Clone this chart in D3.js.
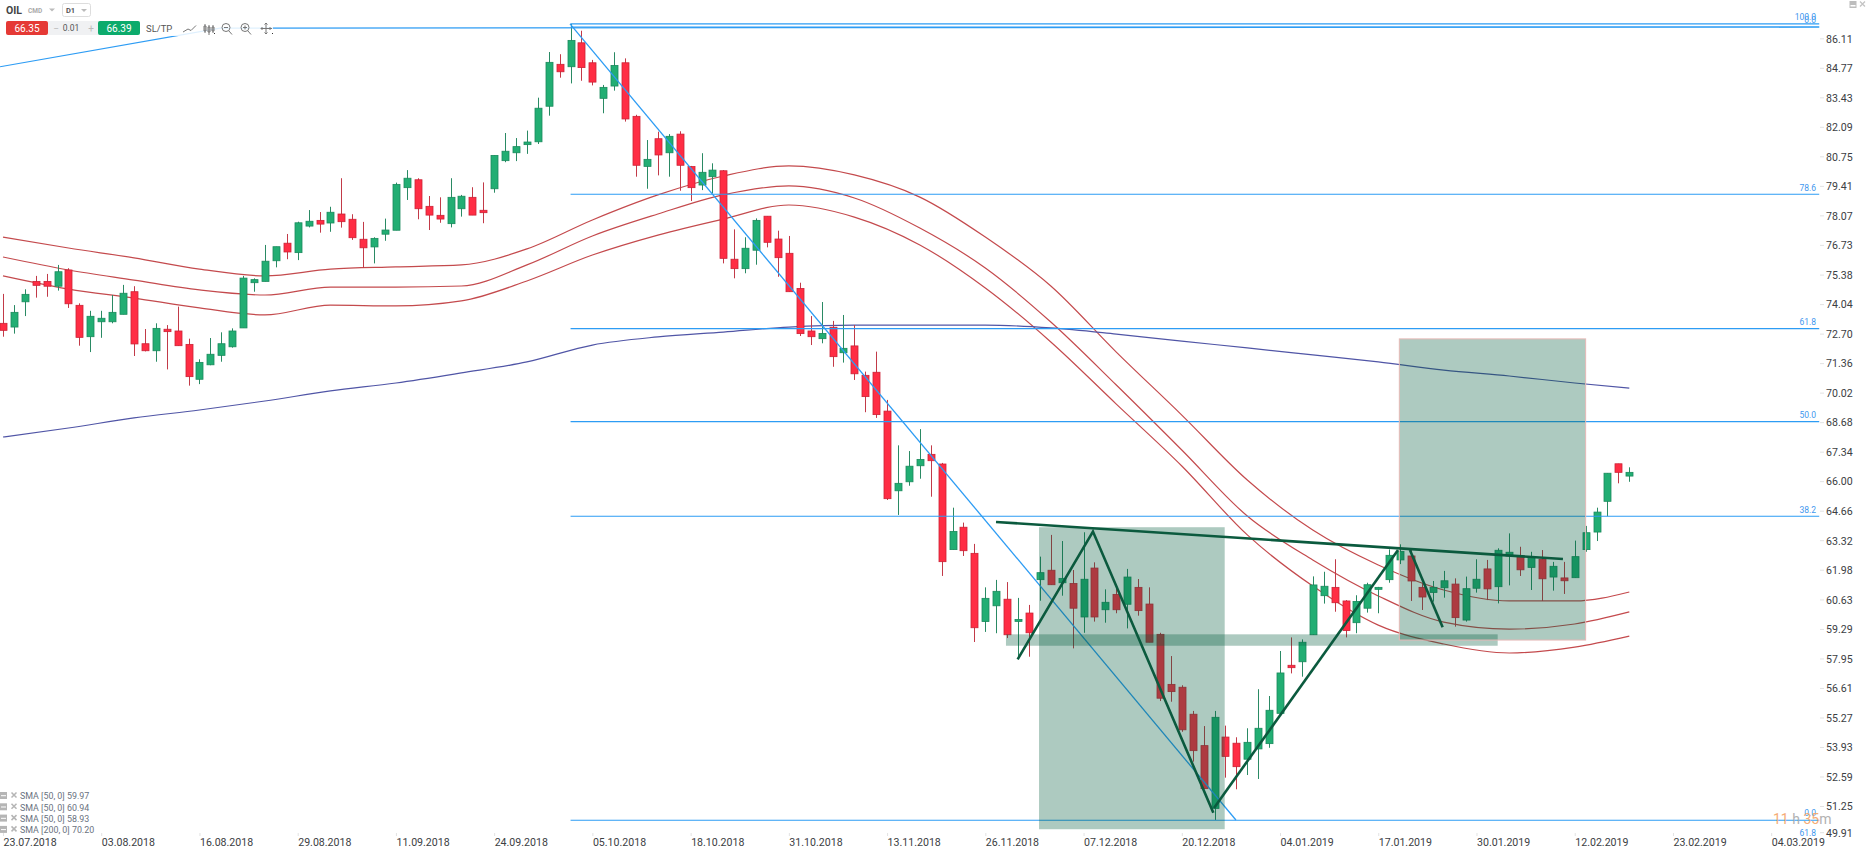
<!DOCTYPE html>
<html><head><meta charset="utf-8">
<script src="https://cdn.jsdelivr.net/npm/d3@7"></script>
<style>html,body{margin:0;padding:0;background:#fff;overflow:hidden}svg{display:block}text{font-family:Roboto,sans-serif}</style>
</head><body><svg id="c" width="1867" height="851"></svg>
<script>
// ---- candles, one entry per daily bar ----
const opens=[73.13,72.96,74.11,75.04,75.04,74.82,75.56,73.95,72.52,73.20,
73.20,73.54,74.57,72.20,71.88,72.86,72.78,72.17,70.58,71.24,
71.67,72.06,72.92,74.98,75.04,75.98,76.78,76.35,77.56,77.82,
77.70,78.11,77.87,76.96,76.61,77.19,77.37,79.31,79.67,78.46,
78.05,77.67,78.35,78.87,78.28,79.26,80.54,80.90,81.27,81.40,
83.02,84.93,84.82,85.91,85.00,83.38,83.94,85.00,82.56,80.28,
81.54,80.90,81.75,80.27,79.43,79.81,80.08,76.05,75.62,76.46,
78.01,76.97,76.32,74.72,72.78,72.43,72.95,71.79,72.10,70.76,
70.90,69.13,65.50,65.91,66.64,67.16,66.72,62.82,63.84,62.65,
59.54,60.26,60.56,59.55,59.93,61.45,61.88,61.31,61.28,59.75,
61.98,60.08,60.78,60.33,61.10,60.34,58.96,56.68,56.55,55.32,
53.89,51.03,54.28,54.00,53.27,53.74,53.98,55.36,57.55,57.71,
58.94,60.72,61.10,60.48,59.49,60.15,61.01,61.45,62.35,62.53,
61.10,60.87,61.08,61.25,59.61,61.06,61.94,61.13,62.53,62.53,
62.01,62.38,61.57,61.53,61.54,62.82,63.62,65.02,66.73,66.17];
const highs=[74.47,73.96,74.68,75.29,75.38,75.79,75.64,74.04,73.70,73.70,
74.42,74.88,74.82,72.87,73.13,73.05,73.89,72.43,71.49,72.46,
72.72,72.90,75.29,75.18,76.70,76.62,77.20,77.76,78.29,78.20,
78.44,79.74,78.10,77.75,77.05,77.90,79.54,80.11,79.74,78.93,
78.87,79.74,78.98,79.33,79.55,80.78,81.80,81.57,81.91,83.41,
85.49,85.39,86.77,86.46,85.13,83.99,85.48,85.20,82.63,81.48,
81.86,81.75,81.88,80.30,80.88,80.42,80.11,77.41,77.05,77.91,
78.01,77.35,77.11,74.98,73.46,74.10,73.24,73.51,73.05,70.93,
71.84,69.64,67.57,67.31,68.31,67.57,66.77,64.73,64.05,63.08,
61.10,61.44,61.34,60.62,60.30,62.50,63.49,63.21,61.89,63.61,
62.24,61.01,61.12,61.94,61.48,61.10,59.03,57.97,56.64,55.47,
54.78,55.47,54.80,54.27,54.68,56.46,56.15,58.20,58.82,58.73,
61.60,61.81,62.38,60.52,60.74,61.31,61.12,62.83,63.06,62.80,
61.30,61.39,61.85,61.51,61.59,62.38,62.35,62.88,63.56,62.95,
62.72,62.80,62.26,62.26,63.23,63.90,64.73,66.30,66.73,66.57];
const lows=[72.52,72.66,73.46,74.30,74.34,74.62,73.83,72.11,71.82,72.47,
73.13,73.54,71.64,71.85,71.38,71.03,72.11,70.29,70.36,71.22,
71.38,72.02,72.92,74.57,75.04,75.68,76.05,76.01,77.50,77.26,
77.30,77.49,76.93,75.65,75.86,76.89,77.37,78.75,77.87,77.38,
77.71,77.50,77.99,78.06,77.69,79.08,80.47,80.52,80.85,81.30,
82.59,84.32,84.06,84.18,83.97,82.70,83.73,82.32,79.81,79.26,
79.87,79.81,79.17,78.70,79.20,79.05,75.86,75.18,75.41,75.80,
76.59,75.25,74.57,72.55,72.14,72.22,71.15,71.34,70.55,69.08,
68.82,65.08,64.40,65.73,66.05,65.23,61.62,62.82,62.53,58.61,
59.07,59.01,58.79,57.87,57.94,60.49,61.22,60.72,58.32,59.03,
59.54,59.49,59.92,59.23,59.81,58.60,55.92,55.89,54.52,53.16,
51.93,50.50,52.43,51.90,52.55,52.37,53.79,55.36,57.18,57.03,
58.94,60.36,59.99,58.82,59.01,59.95,59.92,61.31,62.16,60.48,
60.07,60.45,60.63,59.31,59.54,60.86,60.52,60.37,61.19,61.62,
60.98,60.48,60.95,60.80,61.54,62.72,63.21,64.34,65.84,65.91];
const closes=[72.81,73.63,74.45,74.86,74.82,75.48,74.02,72.49,73.45,73.36,
73.63,74.50,72.19,71.88,72.90,72.75,72.11,70.70,71.35,71.72,
72.20,72.78,75.19,75.12,75.96,76.62,76.38,77.71,77.78,77.65,
78.19,77.76,77.03,76.57,77.00,77.38,79.46,79.74,78.35,78.06,
77.88,78.87,78.92,78.06,78.17,80.78,80.97,81.18,81.39,82.93,
85.02,84.59,86.02,84.78,84.12,83.88,84.88,82.44,80.33,80.60,
80.80,81.65,80.33,79.31,80.01,80.11,76.09,75.62,76.55,77.82,
76.82,76.12,74.57,72.66,72.52,72.67,71.61,71.99,70.83,69.79,
68.97,65.14,65.84,66.62,66.93,66.87,62.27,63.65,62.77,59.26,
60.60,60.92,58.94,59.64,59.03,61.77,61.22,61.51,60.15,61.47,
59.75,60.42,60.08,61.57,60.04,58.60,56.05,56.35,54.61,53.66,
51.93,55.18,53.40,52.93,54.04,54.68,55.50,57.20,57.44,58.60,
61.21,61.15,60.40,59.13,60.46,61.22,61.10,62.56,62.74,61.39,
60.66,61.10,61.40,59.72,61.04,61.47,61.03,62.79,62.70,61.90,
62.50,61.49,62.06,61.40,62.50,63.59,64.53,66.30,66.34,66.34];
// ---- moving averages, read at every sixth bar ----
const maBars=[0,6,12,18,24,30,36,42,48,54,60,66,72,78,84,90,96,102,108,114,120,126,132,138,144,149];
const smaUpper=[77.06,76.56,76.11,75.60,75.29,75.60,75.70,75.79,76.52,77.84,78.98,79.84,80.30,79.89,78.88,77.06,74.83,71.82,68.95,65.99,63.71,62.12,60.98,60.48,60.48,60.89];
const smaMiddle=[76.15,75.56,75.10,74.65,74.42,74.78,74.78,74.83,75.79,77.11,78.11,78.98,79.39,78.84,77.47,75.65,73.19,70.32,67.36,64.35,62.35,60.71,59.52,59.20,59.43,59.98];
const smaLower=[75.29,74.69,74.28,73.83,73.51,73.96,73.92,74.15,75.06,76.24,77.15,77.88,78.52,77.97,76.70,74.74,72.28,69.45,66.63,63.49,61.16,59.38,58.52,58.11,58.38,58.88];
const sma200=[67.95,68.36,68.82,69.18,69.59,70.05,70.41,70.87,71.37,72.14,72.51,72.73,72.96,73.05,73.05,73.05,72.92,72.64,72.32,72.01,71.69,71.37,71.00,70.73,70.41,70.18];
// ---- axes ----
const priceTicks=[86.11,84.77,83.43,82.09,80.75,79.41,78.07,76.73,75.38,74.04,72.70,71.36,70.02,68.68,67.34,66.00,64.66,63.32,61.98,60.63,59.29,57.95,56.61,55.27,53.93,52.59,51.25,49.91];
const dateTicks=["23.07.2018","03.08.2018","16.08.2018","29.08.2018","11.09.2018","24.09.2018","05.10.2018","18.10.2018","31.10.2018","13.11.2018","26.11.2018","07.12.2018","20.12.2018","04.01.2019","17.01.2019","30.01.2019","12.02.2019","23.02.2019","04.03.2019"];
// ---- drawings on the chart, in bar index and price ----
const fibLevels=[86.77,86.63,79.01,72.89,68.65,64.34,50.49];
const fibLabels=["100.0","0.0","78.6","61.8","50.0","38.2","0.0","61.8"];
const fibLabelPrices=[87.10,86.95,79.28,73.17,68.97,64.62,50.80,49.93];
const zones=[[94.92,111.93,63.84,50.08],[127.93,145.0,72.42,58.70],[91.89,136.94,58.96,58.44]];
const patternA=[[92.96,57.82],[99.86,63.64],[110.89,50.83]];
const patternB=[[110.95,51.05],[127.81,62.80]];
const patternC=[[128.9,62.80],[131.9,59.28]];
const neckline=[[90.98,64.08],[142.92,62.39]];
const fibTrend=[[51.95,86.77],[112.96,50.50]];
const olderTrend=[[-0.27,84.82],[19.88,86.58],[166.4,86.63]];
const legendLabels=["SMA [50, 0] 59.97","SMA [50, 0] 60.94","SMA [50, 0] 58.93","SMA [200, 0] 70.20"];

const svg=d3.select("#c");
const x=d3.scaleLinear().domain([0,149]).range([3,1629.3]);
const y=d3.scaleLinear().domain([87.86,49.91]).range([0,832.97]);
const axisY=d3.scaleLinear().domain([86.11,51.25]).range([38.3,806]);
const lineGen=d3.line().x(d=>x(d[0])).y(d=>y(d[1]));
const smoothGen=d3.line().x(d=>x(d[0])).y(d=>y(d[1])).curve(d3.curveMonotoneX);
const FIBC="#2d9cf4";

// axes
const yAxis=d3.axisRight(axisY).tickValues(priceTicks).tickSize(4).tickPadding(2).tickFormat(d3.format(".2f"));
const gy=svg.append("g").attr("transform","translate(1820,0)").call(yAxis);
gy.select(".domain").remove();
gy.selectAll(".tick").filter(d=>d===49.91).attr("transform","translate(0,832.7)");
gy.selectAll("line").attr("stroke","#e2e2e2");
gy.selectAll("text").attr("fill","#3c4043").style("font-size","10.6px").attr("dy","0.36em");
const barTicks=dateTicks.map((d,i)=>i*9);
const xAxis=d3.axisBottom(x).tickValues(barTicks).tickSize(3).tickPadding(1).tickFormat((d,i)=>dateTicks[i]);
const gx=svg.append("g").attr("transform","translate(0,833)").call(xAxis);
gx.select(".domain").remove();
gx.selectAll("line").attr("stroke","#e2e2e2");
gx.selectAll("text").attr("fill","#3c4043").attr("text-anchor","start").style("font-size","10.6px").attr("y",5);

// moving averages
[smaUpper,smaMiddle,smaLower].forEach(s=>{
  svg.append("path").datum(s.map((v,i)=>[maBars[i],v])).attr("d",smoothGen).attr("fill","none").attr("stroke","#c44a4d").attr("stroke-width",1.2);
});
svg.append("path").datum(sma200.map((v,i)=>[maBars[i],v])).attr("d",smoothGen).attr("fill","none").attr("stroke","#5055a6").attr("stroke-width",1.2);

// candles
const bars=opens.map((o,i)=>({i,o,h:highs[i],l:lows[i],c:closes[i],up:closes[i]>=o}));
const gc=svg.append("g");
gc.selectAll("line").data(bars).join("line")
  .attr("x1",d=>Math.round(x(d.i))+.5).attr("x2",d=>Math.round(x(d.i))+.5)
  .attr("y1",d=>y(d.h)).attr("y2",d=>y(d.l))
  .attr("stroke",d=>d.up?"#2a8a64":"#c23a48").attr("stroke-width",1);
gc.selectAll("rect").data(bars).join("rect")
  .attr("x",d=>Math.round(x(d.i))-3).attr("width",7)
  .attr("y",d=>y(Math.max(d.o,d.c))).attr("height",d=>Math.max(1.5,y(Math.min(d.o,d.c))-y(Math.max(d.o,d.c))))
  .attr("fill",d=>d.up?"#22ae73":"#ff2d44").attr("stroke",d=>d.up?"#1a8a5c":"#cc2236").attr("stroke-width",.8);

// fib lines
svg.selectAll(".fib").data(fibLevels).join("line").attr("class","fib")
  .attr("x1",x(52)).attr("x2",x(166.4)).attr("y1",d=>y(d)).attr("y2",d=>y(d))
  .attr("stroke",FIBC).attr("stroke-width",1.2);
svg.append("path").datum(olderTrend).attr("d",lineGen).attr("fill","none").attr("stroke",FIBC).attr("stroke-width",1.2);
svg.append("path").datum(fibTrend).attr("d",lineGen).attr("fill","none").attr("stroke",FIBC).attr("stroke-width",1.3);
svg.selectAll(".fl").data(fibLabels).join("text").attr("class","fl")
  .attr("x",1816).attr("y",(d,i)=>y(fibLabelPrices[i])).attr("text-anchor","end").attr("dy","0.36em")
  .attr("fill","#3f97ee").style("font-size","8.5px").text(d=>d);

// zones
svg.selectAll(".zone").data(zones).join("rect").attr("class","zone")
  .attr("x",d=>x(d[0])).attr("width",d=>x(d[1])-x(d[0]))
  .attr("y",d=>y(d[2])).attr("height",d=>y(d[3])-y(d[2]))
  .attr("fill","rgb(0,90,60)").attr("fill-opacity",.32);
svg.append("rect").attr("x",x(zones[1][0])).attr("width",x(zones[1][1])-x(zones[1][0]))
  .attr("y",y(zones[1][2])).attr("height",y(zones[1][3])-y(zones[1][2]))
  .attr("fill","none").attr("stroke","#e6b9b6").attr("stroke-width",1);

// chart pattern
[patternA,patternB,patternC,neckline].forEach(p=>{
  svg.append("path").datum(p).attr("d",lineGen).attr("fill","none").attr("stroke","#0b5a3e").attr("stroke-width",2.6);
});

// countdown
const cd=svg.append("text").attr("x",1773).attr("y",824).style("font-size","14px").attr("opacity",.9);
[["11","#f5a468"],[" h ","#aaa"],["35","#f5a468"],["m","#aaa"]].forEach(([t,c])=>cd.append("tspan").attr("fill",c).attr("xml:space","preserve").text(t));

// legend
const lg=svg.append("g");
legendLabels.forEach((t,i)=>{
  const yy=796+i*11.3;
  lg.append("rect").attr("x",0).attr("y",yy-4).attr("width",7).attr("height",7).attr("fill","#b5b5b5");
  lg.append("rect").attr("x",1).attr("y",yy-.8).attr("width",5).attr("height",1).attr("fill","#fff");
  lg.append("path").attr("d",`M11.5 ${yy-3.5}l5 5M16.5 ${yy-3.5}l-5 5`).attr("stroke","#b5b5b5").attr("stroke-width",1.5);
  lg.append("text").attr("x",20).attr("y",yy).attr("dy","0.36em").attr("fill","#6a7280").style("font-size","8.9px").text(t);
});

// toolbar
const tb=svg.append("g");
tb.append("rect").attr("x",165).attr("y",20).attr("width",108).attr("height",16).attr("fill","#fff").attr("opacity",.85);
tb.append("text").attr("x",6).attr("y",14).attr("fill","#444").style("font-size","10.5px").style("font-weight",700).text("OIL");
tb.append("text").attr("x",28).attr("y",13).attr("fill","#aaa").style("font-size","6.5px").style("font-weight",700).text("CMD");
tb.append("path").attr("d","M49 8.5h6l-3 3z").attr("fill","#bbb");
tb.append("rect").attr("x",62.5).attr("y",3.5).attr("width",28).attr("height",13).attr("rx",2).attr("fill","#fff").attr("stroke","#ddd");
tb.append("text").attr("x",66).attr("y",13).attr("fill","#555").style("font-size","7.5px").style("font-weight",700).text("D1");
tb.append("path").attr("d","M81 9h6l-3 3z").attr("fill","#bbb");
tb.append("rect").attr("x",48).attr("y",21).attr("width",52).attr("height",14).attr("fill","#f0f1f3");
tb.append("rect").attr("x",6).attr("y",21).attr("width",42).attr("height",14).attr("rx",2).attr("fill","#e53935");
tb.append("rect").attr("x",98).attr("y",21).attr("width",42).attr("height",14).attr("rx",2).attr("fill","#0cab6c");
tb.append("text").attr("x",27).attr("y",31.6).attr("text-anchor","middle").attr("fill","#fff").style("font-size","10px").text("66.35");
tb.append("text").attr("x",119).attr("y",31.6).attr("text-anchor","middle").attr("fill","#fff").style("font-size","10px").text("66.39");
tb.append("text").attr("x",71).attr("y",31.4).attr("text-anchor","middle").attr("fill","#555").style("font-size","8.5px").text("0.01");
tb.append("text").attr("x",56).attr("y",31.6).attr("text-anchor","middle").attr("fill","#bbb").style("font-size","10px").text("−");
tb.append("text").attr("x",91).attr("y",31.6).attr("text-anchor","middle").attr("fill","#bbb").style("font-size","10px").text("+");
tb.append("text").attr("x",146).attr("y",32).attr("fill","#555").style("font-size","9.5px").text("SL/TP");
const ic=tb.append("g").attr("fill","none").attr("stroke","#777").attr("stroke-width",1);
ic.append("path").attr("d","M183 32l5-3 3 1.5 5-5");
ic.append("path").attr("d","M205 24v9M209 25v10M213 25v8M204 26h2v5h-2zM208 27h2v5h-2zM212 27h2v4h-2z");
ic.append("circle").attr("cx",226).attr("cy",27.5).attr("r",4);
ic.append("path").attr("d","M224 27.5h4M229 31l3 3.5");
ic.append("circle").attr("cx",245).attr("cy",27.5).attr("r",4);
ic.append("path").attr("d","M243 27.5h4M245 25.5v4M248 31l3 3.5");
ic.append("path").attr("d","M266 23v11M261 28.5h11M264.5 24.5l1.5-1.5 1.5 1.5M264.5 32.5l1.5 1.5 1.5-1.5M262.5 27l-1.5 1.5 1.5 1.5M269.5 27l1.5 1.5-1.5 1.5");
tb.append("rect").attr("x",214).attr("y",33).attr("width",1).attr("height",1).attr("fill","#333");
tb.append("rect").attr("x",272).attr("y",33).attr("width",1).attr("height",1).attr("fill","#333");
// window buttons
svg.append("rect").attr("x",1849.5).attr("y",1).attr("width",7).attr("height",7).attr("fill","#bdbdbd");
svg.append("rect").attr("x",1850.5).attr("y",5).attr("width",5).attr("height",1.5).attr("fill","#fff");
svg.append("path").attr("d","M1860 1.5l5 5M1865 1.5l-5 5").attr("stroke","#c4c4c4").attr("stroke-width",1.3);
</script></body></html>
